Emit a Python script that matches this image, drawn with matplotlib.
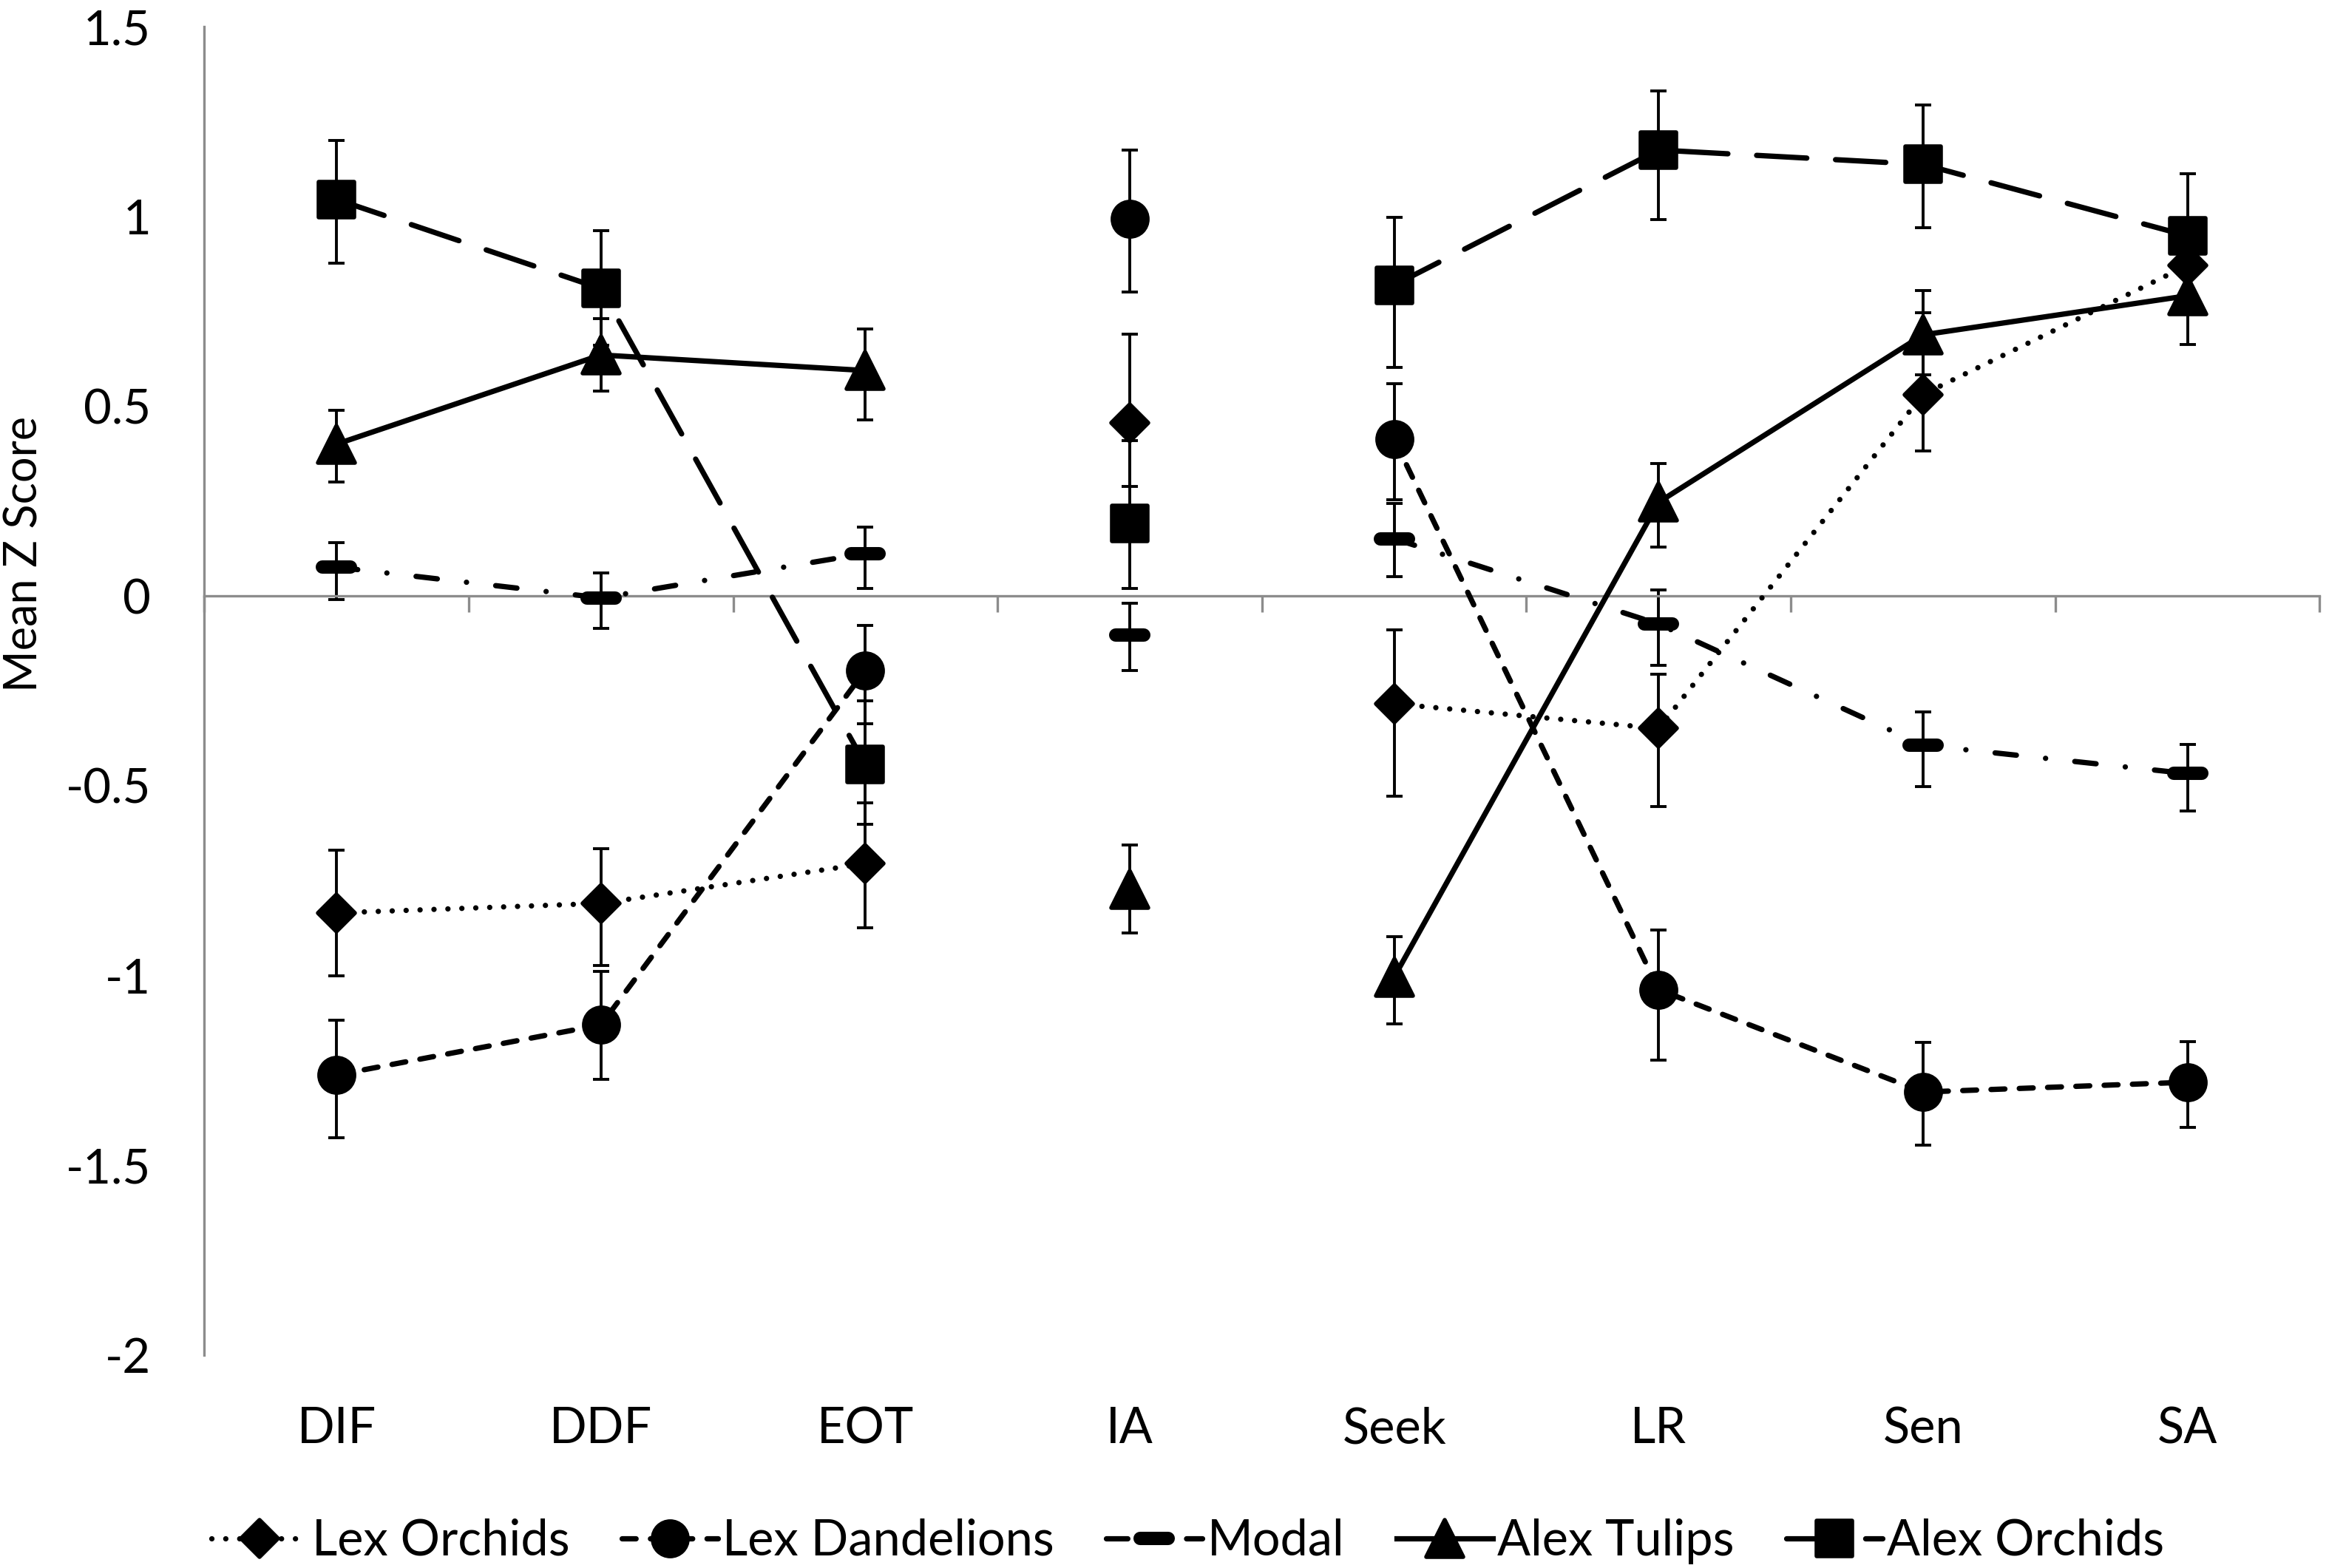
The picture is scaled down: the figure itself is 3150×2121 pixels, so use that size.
import numpy as np
import matplotlib.pyplot as plt
from matplotlib.markers import MarkerStyle

plt.rcParams['font.family'] = ['Lato', 'DejaVu Sans']
plt.rcParams['axes.unicode_minus'] = False

categories = ["DIF", "DDF", "EOT", "IA", "Seek", "LR", "Sen", "SA"]

# mean z scores and error bar extents (below / above the mean)
lex_orchids = [-0.835, -0.81, -0.705, 0.456, -0.284, -0.349, 0.531, 0.871]
lex_orchids_lo = [0.166, 0.164, 0.169, 0.168, 0.244, 0.206, 0.149, 0.10]
lex_orchids_hi = [0.166, 0.145, 0.160, 0.234, 0.194, 0.143, 0.215, 0.10]

lex_dandelions = [-1.262, -1.13, -0.196, 0.993, 0.413, -1.037, -1.307, -1.281]
lex_dandelions_lo = [0.165, 0.143, 0.141, 0.193, 0.160, 0.185, 0.140, 0.120]
lex_dandelions_hi = [0.145, 0.140, 0.119, 0.181, 0.147, 0.157, 0.130, 0.107]

modal = [0.076, -0.005, 0.112, -0.103, 0.151, -0.074, -0.393, -0.468]
modal_lo = [0.086, 0.081, 0.093, 0.093, 0.100, 0.109, 0.109, 0.099]
modal_hi = [0.065, 0.065, 0.070, 0.083, 0.093, 0.090, 0.087, 0.077]

alex_tulips = [0.40, 0.635, 0.594, -0.772, -1.004, 0.247, 0.688, 0.791]
alex_tulips_lo = [0.10, 0.095, 0.131, 0.116, 0.123, 0.118, 0.105, 0.128]
alex_tulips_hi = [0.09, 0.095, 0.109, 0.116, 0.107, 0.102, 0.117, 0.120]

alex_orchids = [1.045, 0.81, -0.444, 0.192, 0.819, 1.175, 1.137, 0.949]
alex_orchids_lo = [0.168, 0.150, 0.158, 0.173, 0.217, 0.184, 0.166, 0.160]
alex_orchids_hi = [0.155, 0.153, 0.168, 0.218, 0.178, 0.155, 0.157, 0.164]

series_names = ["Lex Orchids", "Lex Dandelions", "Modal", "Alex Tulips", "Alex Orchids"]

series = [
    (lex_orchids, lex_orchids_lo, lex_orchids_hi, 'D', 12.5, (0, (0.01, 2.6))),
    (lex_dandelions, lex_dandelions_lo, lex_dandelions_hi, 'o', 17, (0, (2.6, 2.7))),
    (modal, modal_lo, modal_hi, '_', 14, (0, (4, 5.5, 0.01, 5.5))),
    (alex_tulips, alex_tulips_lo, alex_tulips_hi, '^', 18, '-'),
    (alex_orchids, alex_orchids_lo, alex_orchids_hi, 's', 17, (0, (9.4, 5.4))),
]

x = np.arange(len(categories))
gap = np.array(categories) == "IA"  # lines are not joined through IA

fig = plt.figure(figsize=(15.75, 10.605), dpi=200)
ax = fig.add_axes([0.0877, 0.1358, 0.9083, 0.8472])

handles = []
for (vals, lo, hi, mk, ms, ls), name in zip(series, series_names):
    y = np.array(vals)
    ax.errorbar(x, y, yerr=[lo, hi], fmt='none', ecolor='black',
                elinewidth=1.4, capsize=4, capthick=1.4, zorder=2)
    if mk == '_':
        marker = MarkerStyle(mk, capstyle='round')
        mew = 6.5
    else:
        marker = MarkerStyle(mk, joinstyle='round')
        mew = 2
    line_y = np.where(gap, np.nan, y)
    h, = ax.plot(x, line_y, color='black', lw=2.6, linestyle=ls,
                 dash_capstyle='round', marker=marker, markersize=ms,
                 markeredgewidth=mew, markerfacecolor='black',
                 markeredgecolor='black', zorder=3, label=name)
    ax.plot(x[gap], y[gap], linestyle='none', marker=marker, markersize=ms,
            markeredgewidth=mew, markerfacecolor='black',
            markeredgecolor='black', zorder=3)
    handles.append(h)

ax.set_xlim(-0.5, len(categories) - 0.5)
ax.set_ylim(-2, 1.5)

grey = '#8c8c8c'
for s in ['top', 'right']:
    ax.spines[s].set_visible(False)
ax.spines['left'].set_color(grey)
ax.spines['left'].set_linewidth(1.2)
ax.spines['bottom'].set_position(('data', 0))
ax.spines['bottom'].set_color(grey)
ax.spines['bottom'].set_linewidth(1.2)

ax.set_xticks(np.arange(-0.5, len(categories), 1.0))
ax.set_xticklabels([])
ax.tick_params(axis='x', direction='out', length=8, width=1.2, color=grey)

yt = np.arange(-2, 1.51, 0.5)
ax.set_yticks(yt)
ax.set_yticklabels(['%g' % v for v in yt])
ax.tick_params(axis='y', length=0, pad=26, labelsize=23.5)

sec = ax.secondary_xaxis(0)
sec.set_xticks(x)
sec.set_xticklabels(categories)
sec.tick_params(length=0, pad=25, labelsize=24)
sec.spines['bottom'].set_visible(False)

ax.set_ylabel('Mean Z Score', fontsize=22)
ax.yaxis.set_label_coords(-0.075, 0.603)

fig.legend(handles, series_names, loc='center', bbox_to_anchor=(0.51, 0.017),
           ncol=5, frameon=False, fontsize=24, handlelength=1.95,
           handletextpad=0.1, columnspacing=1.05)

fig.savefig('out.png', dpi=200)
